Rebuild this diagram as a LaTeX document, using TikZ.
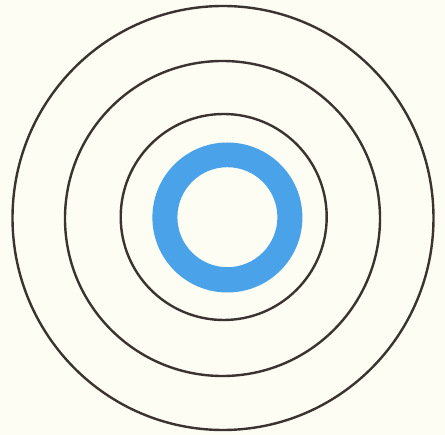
\documentclass[tikz,border=0pt]{standalone}
\definecolor{bg}{HTML}{FDFDF3}
\definecolor{ink}{HTML}{3A3330}
\definecolor{ringblue}{HTML}{4AA3E8}
\tikzset{orbit/.style={draw=ink,line width=2.4pt}}
\begin{document}
\begin{tikzpicture}[x=1pt,y=-1pt]
\fill[bg] (0,0) rectangle (445,435);
\useasboundingbox (0,0) rectangle (445,435);
\draw[orbit] (223,218) circle[x radius=210.5,y radius=212];
\draw[orbit] (222.5,218.5) circle[radius=157.5];
\draw[orbit] (223.7,217) circle[radius=103];
\fill[ringblue,even odd rule] (227.4,217.5) circle[radius=75] (227.4,217.2) circle[radius=50];
\end{tikzpicture}
\end{document}
